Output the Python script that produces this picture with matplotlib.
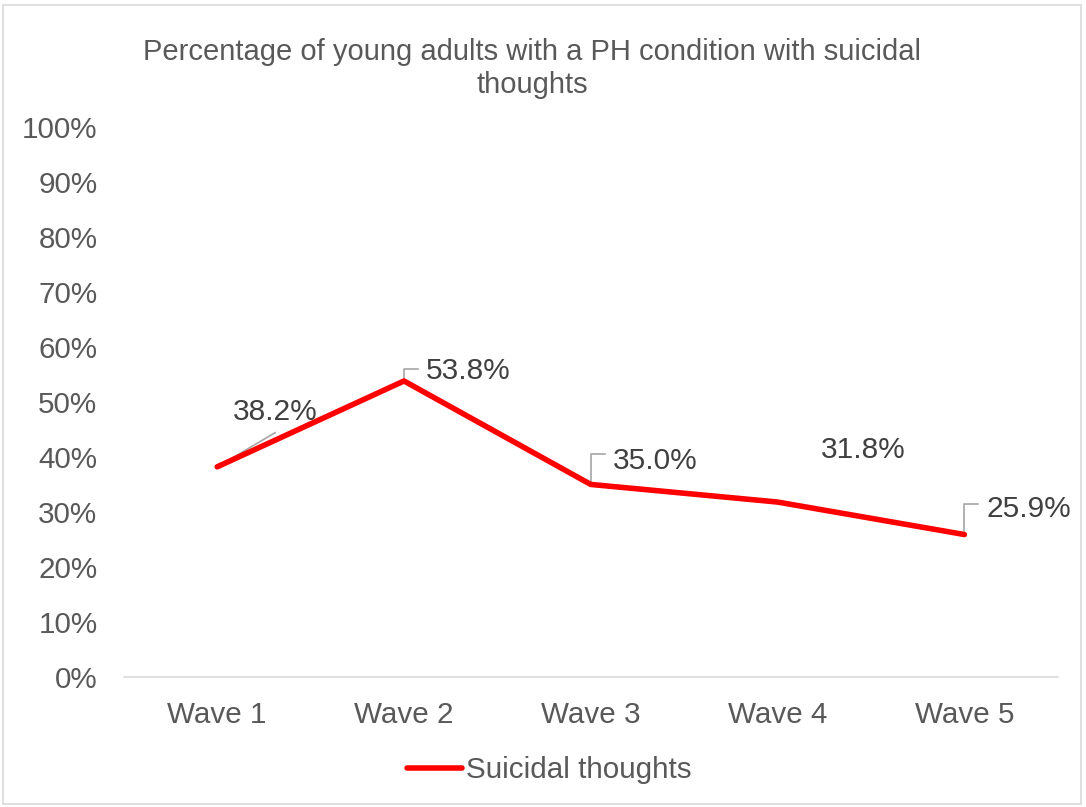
import matplotlib
matplotlib.use("Agg")
import matplotlib.pyplot as plt
from matplotlib.patches import Rectangle

plt.rcParams['font.family'] = ['Liberation Sans', 'DejaVu Sans']

waves = ["Wave 1", "Wave 2", "Wave 3", "Wave 4", "Wave 5"]
suicidal = [38.2, 53.8, 35.0, 31.8, 25.9]
y_ticks = [0, 10, 20, 30, 40, 50, 60, 70, 80, 90, 100]

# label offsets (data units: x in category steps, y in percent) and leader style
label_offsets = [(0.085, 10.0), (0.115, 1.8), (0.12, 4.3), (0.23, 9.4), (0.12, 4.6)]
leader_kind = ["diag", "elbow", "elbow", None, "elbow"]

fig = plt.figure(figsize=(10.86, 8.07), dpi=100)
ax = fig.add_axes([0.114, 0.161, 0.860, 0.682])

x = list(range(len(waves)))
ax.plot(x, suicidal, color="#FF0000", linewidth=4.0, solid_capstyle="round",
        solid_joinstyle="round", label="Suicidal thoughts", zorder=3)

ax.set_xlim(-0.5, len(waves) - 0.5)
ax.set_ylim(0, 100)
ax.set_yticks(y_ticks)
ax.set_yticklabels([f"{v}%" for v in y_ticks])
ax.set_xticks(x)
ax.set_xticklabels(waves)
ax.tick_params(axis="both", length=0, labelsize=21.3, colors="#595959")
ax.tick_params(axis="y", pad=19)
ax.tick_params(axis="x", pad=17)
for side in ["top", "right", "left"]:
    ax.spines[side].set_visible(False)
ax.spines["bottom"].set_color("#D9D9D9")
ax.spines["bottom"].set_linewidth(1.2)

for i, (v, (dx, dy), kind) in enumerate(zip(suicidal, label_offsets, leader_kind)):
    tx, ty = i + dx, v + dy
    ax.text(tx, ty, f"{v:.1f}%", fontsize=21.5, color="#404040",
            ha="left", va="center", zorder=4)
    if kind == "elbow":
        ax.plot([i, i, i + 0.075], [v, v + 5.5, v + 5.5] if i != 1 else [v, v + 2.2, v + 2.2],
                color="#A6A6A6", linewidth=1.2, zorder=2)
    elif kind == "diag":
        ax.plot([i, i + 0.31], [v, v + 6.2], color="#A6A6A6",
                linewidth=1.2, zorder=2)

fig.text(0.49, 0.936, "Percentage of young adults with a PH condition with suicidal",
         ha="center", va="center", fontsize=21, color="#595959")
fig.text(0.49, 0.895, "thoughts", ha="center", va="center",
         fontsize=21, color="#595959")

leg = ax.legend(loc="center", bbox_to_anchor=(0.456, -0.169), frameon=False,
                fontsize=21.3, handlelength=1.85, handletextpad=0.15)
for t in leg.get_texts():
    t.set_color("#595959")

fig.add_artist(Rectangle((0.003, 0.004), 0.992, 0.990, transform=fig.transFigure,
                         fill=False, edgecolor="#D9D9D9", linewidth=1.2))

fig.savefig("out.png", dpi=100)
